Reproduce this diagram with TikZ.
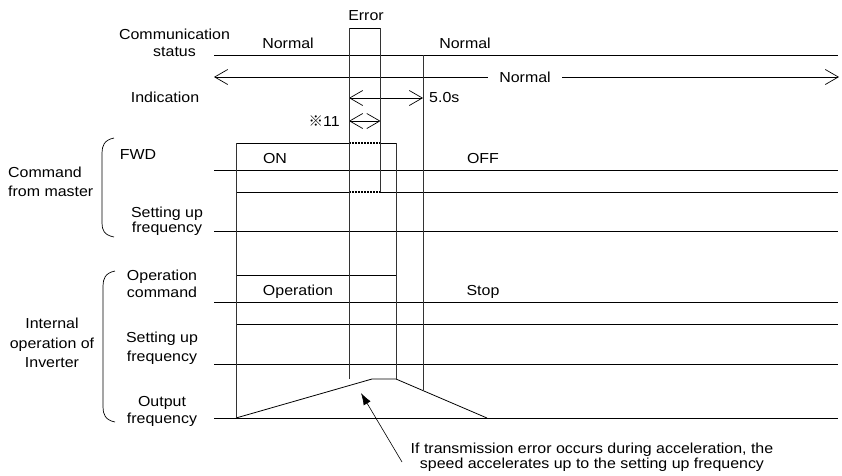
\documentclass[tikz,border=0pt]{standalone}
\usepackage{fontspec}
\setmainfont{Liberation Sans}[FakeStretch=1.1]
\newfontfamily\cjk{Noto Sans CJK JP}
\usetikzlibrary{arrows.meta, positioning, calc}

\begin{document}
\begin{tikzpicture}[
			x=1pt, y=-1pt,
			>=Latex,
			sig/.style={line width=0.8pt},
			guide/.style={line width=0.7pt, black!80},
			gap/.style={line width=1.1pt, dash pattern=on 1.6pt off 1.4pt},
			lbl/.style={font=\fontsize{14.5}{17}\selectfont, inner sep=0pt, align=center},
			dim/.style={line width=0.7pt, {Straight Barb[length=13pt,width=15pt]}-{Straight Barb[length=13pt,width=15pt]}},
			brace/.style={line width=0.7pt}
			]
			\useasboundingbox (0,0) rectangle (842,475);
			
			% --- Labels on the left ---
			\node[lbl] (comm) at (174.5,43) {Communication\\status};
			\node[lbl] (indic) at (165,97) {Indication};
			\node[lbl, align=left, anchor=west, font=\fontsize{14.5}{19}\selectfont] (master) at (8,182) {Command\\from master};
			\node[lbl] (fwd) at (138,155) {FWD};
			\node[lbl, font=\fontsize{14.5}{12}\selectfont] (mfreq) at (167,221) {Setting up\\frequency};
			\node[lbl, font=\fontsize{14.5}{19.5}\selectfont] (inv) at (52,343) {Internal\\operation of\\Inverter};
			\node[lbl] (opcmd) at (162,284) {Operation\\command};
			\node[lbl, font=\fontsize{14.5}{19}\selectfont] (ifreq) at (162,348) {Setting up\\frequency};
			\node[lbl] (ofreq) at (162,411) {Output\\frequency};
			
			% --- Brackets ---
			\draw[brace] (114,138) .. controls (104,140) and (102,146) .. (102,153) -- (102,223) .. controls (102,230) and (104,235) .. (114,237);
			\draw[brace] (115,271) .. controls (105,273) and (103,279) .. (103,286) -- (103,407) .. controls (103,414) and (105,420) .. (115,422);
			
			% --- Communication status ---
			\draw[sig] (214,55) -- (838,55);
			\draw[sig] (349,28) -- (380.5,28);
			\node[lbl] (err) at (366,16) {Error};
			\node[lbl] (norm1) at (288,43) {Normal};
			\node[lbl] (norm2) at (465,43) {Normal};
			
			% --- Indication ---
			\coordinate (indl) at (214,77);
			\coordinate (indr) at (839,77);
			\draw[dim] (indl) -- (indr);
			\node[lbl, fill=white, inner xsep=11pt, inner ysep=2pt] (norm3) at (525,77) {Normal};
			\draw[dim] (349,98) coordinate (fivel) -- (423,98) coordinate (fiver);
			\node[lbl, anchor=west] (five) at (429,98) {5.0s};
			\draw[dim] (349,121) coordinate (elevl) -- (380.5,121) coordinate (elevr);
			\node[lbl, anchor=east] (note) at (340,121) {{\cjk ※}11};
			
			% --- Command from master ---
			\draw[sig] (214,170) -- (838,170);
			\draw[sig] (236,170) -- (236,143) -- (349,143);
			\draw[gap] (349,143) -- (380.5,143);
			\draw[sig] (380.5,143) -- (396,143) -- (396,170);
			\node[lbl] (on) at (275,159) {ON};
			\node[lbl] (off) at (483,159) {OFF};
			\draw[sig] (214,231) -- (838,231);
			\draw[sig] (236,231) -- (236,192) -- (349,192);
			\draw[gap] (349,192) -- (380.5,192);
			\draw[sig] (380.5,192) -- (838,192);
			
			% --- Internal operation ---
			\draw[sig] (214,302) -- (838,302);
			\draw[sig] (236,302) -- (236,275) -- (396,275) -- (396,302);
			\node[lbl] (oper) at (298,292) {Operation};
			\node[lbl] (stop) at (483,292) {Stop};
			\draw[sig] (214,364) -- (838,364);
			\draw[sig] (236,364) -- (236,324) -- (838,324);
			\draw[sig] (214,418) -- (838,418);
			\draw[sig] (236,418) -- (372,379) -- (396,379) -- (487,418);
			
			% --- Guide lines ---
			\draw[guide] (236,143) -- (236,418);
			\draw[guide] (349,28) -- (349,379);
			\draw[guide] (380.5,28) -- (380.5,192);
			\draw[guide] (396,143) -- (396,379);
			\draw[guide] (423,55) -- (423,390);
			
			% --- Remark ---
			\node[lbl, font=\fontsize{14.5}{12.5}\selectfont] (remark) at (592,457) {If transmission error occurs during acceleration, the\\speed accelerates up to the setting up frequency};
			\coordinate (tail) at (402,462);
			\coordinate (tip) at (361,393);
			\draw[line width=0.6pt, -{Latex[length=12pt,width=8pt]}] (tail) -- (tip);
			
		\end{tikzpicture}
\end{document}
